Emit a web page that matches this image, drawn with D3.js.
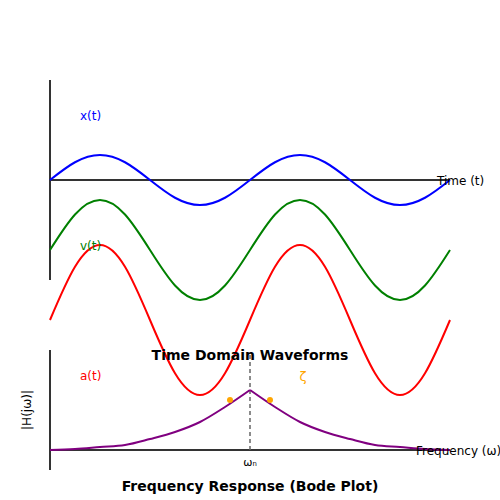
<!DOCTYPE html>
<html><head><meta charset="utf-8">
<script src="https://cdn.jsdelivr.net/npm/d3@7"></script>
<style>body{margin:0;background:#fff}</style></head>
<body><script>
// samples every quarter-period step (time units 0..16)
const tSteps = d3.range(0, 17)
const xSignal = [0, 0.71, 1, 0.71, 0, -0.71, -1, -0.71, 0, 0.71, 1, 0.71, 0, -0.71, -1, -0.71, 0]
const vSignal = xSignal.slice()
const aSignal = xSignal.slice()
const wSteps = d3.range(0, 17)
const hMag = [0, 1, 3, 5, 11, 18, 28, 43, 60, 43, 28, 18, 11, 5, 3, 1, 0]

const svg = d3.select('body').append('svg').attr('width', 500).attr('height', 500)
  .style('font-family', 'DejaVu Sans')

const x = d3.scaleLinear().domain([0, 16]).range([50, 450])
const line = (yScale) => d3.line().x((d, i) => x(tSteps[i])).y(d => yScale(d)).curve(d3.curveNatural)

// axes top
svg.append('line').attr('x1', 50).attr('x2', 50).attr('y1', 80).attr('y2', 280).attr('stroke', '#333').attr('stroke-width', 2)
svg.append('line').attr('x1', 50).attr('x2', 450).attr('y1', 180).attr('y2', 180).attr('stroke', '#333').attr('stroke-width', 2)

const yx = d3.scaleLinear().domain([-1, 1]).range([205, 155])
const yv = d3.scaleLinear().domain([-1, 1]).range([300, 200])
const ya = d3.scaleLinear().domain([-1, 1]).range([395, 245])
;[[xSignal, yx, 'blue'], [vSignal, yv, 'green'], [aSignal, ya, 'red']].forEach(([d, s, c]) => {
  svg.append('path').datum(d).attr('d', line(s)).attr('fill', 'none').attr('stroke', c).attr('stroke-width', 2)
})
svg.append('text').attr('x', 80).attr('y', 120).attr('fill', 'blue').attr('font-size', 12).text('x(t)')
svg.append('text').attr('x', 80).attr('y', 250).attr('fill', 'green').attr('font-size', 12).text('v(t)')
svg.append('text').attr('x', 80).attr('y', 380).attr('fill', 'red').attr('font-size', 12).text('a(t)')
svg.append('text').attr('x', 437).attr('y', 185).attr('font-size', 12).text('Time (t)')
svg.append('text').attr('x', 250).attr('y', 360).attr('text-anchor', 'middle').attr('font-size', 14).attr('font-weight', 'bold').text('Time Domain Waveforms')

// bottom
const yh = d3.scaleLinear().domain([0, 60]).range([450, 390])
svg.append('line').attr('x1', 50).attr('x2', 50).attr('y1', 350).attr('y2', 470).attr('stroke', '#333').attr('stroke-width', 2)
svg.append('line').attr('x1', 50).attr('x2', 450).attr('y1', 450).attr('y2', 450).attr('stroke', '#333').attr('stroke-width', 2)
svg.append('line').attr('x1', x(8)).attr('x2', x(8)).attr('y1', 355).attr('y2', 450).attr('stroke', '#666').attr('stroke-dasharray', '4,3').attr('stroke-width', 1.5)
const hLine = (off) => d3.line().x((d, i) => x(wSteps[i + off])).y(d => yh(d)).curve(d3.curveMonotoneX)
svg.append('path').datum(hMag.slice(0, 9)).attr('d', hLine(0)).attr('fill', 'none').attr('stroke', 'purple').attr('stroke-width', 2)
svg.append('path').datum(hMag.slice(8)).attr('d', hLine(8)).attr('fill', 'none').attr('stroke', 'purple').attr('stroke-width', 2)
svg.selectAll('circle.z').data([7.2, 8.8]).join('circle').attr('cx', d => x(d)).attr('cy', 400).attr('r', 3).attr('fill', 'orange')
svg.append('text').attr('x', 303).attr('y', 381).attr('text-anchor', 'middle').attr('fill', 'orange').attr('font-size', 13).text('ζ')
svg.append('text').attr('x', 250).attr('y', 466).attr('text-anchor', 'middle').attr('font-size', 11).text('ωₙ')
svg.append('text').attr('x', 416).attr('y', 455).attr('font-size', 12).text('Frequency (ω)')
svg.append('text').attr('transform', 'translate(31,410) rotate(-90)').attr('text-anchor', 'middle').attr('font-size', 12).text('|H(jω)|')
svg.append('text').attr('x', 250).attr('y', 491).attr('text-anchor', 'middle').attr('font-size', 14).attr('font-weight', 'bold').text('Frequency Response (Bode Plot)')
</script></body></html>
